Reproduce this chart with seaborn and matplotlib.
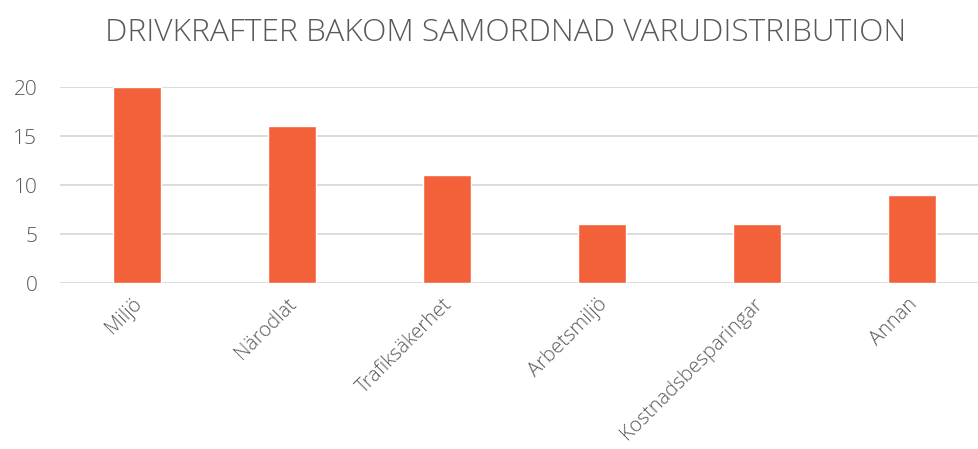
import matplotlib
matplotlib.use("Agg")
import matplotlib.pyplot as plt
import matplotlib.transforms as mtransforms
import seaborn as sns
import pandas as pd

categories = ["Miljö", "Närodlat", "Trafiksäkerhet", "Arbetsmiljö", "Kostnadsbesparingar", "Annan"]
values = [20, 16, 11, 6, 6, 9]
yticks = [0, 5, 10, 15, 20]
title = "DRIVKRAFTER BAKOM SAMORDNAD VARUDISTRIBUTION"

sns.set_theme(style="white")
plt.rcParams['font.family'] = ['Open Sans', 'DejaVu Sans']

df = pd.DataFrame({"cat": categories, "val": values})
fig = plt.figure(figsize=(9.79, 4.49), dpi=100)
ax = fig.add_axes([0.0608, 0.3697, 0.950, 0.4365])
sns.barplot(data=df, x="cat", y="val", color="#F3613A", width=0.31, saturation=1, ax=ax, zorder=3)
ax.set_ylim(0, 20)
ax.set_xlim(-0.5, len(categories) - 0.5)
ax.set_yticks(yticks)
ax.yaxis.grid(True, color="#d9d9d9", linewidth=1.3, zorder=0)
ax.set_axisbelow(True)
for s in ax.spines.values():
    s.set_visible(False)
ax.set_xlabel("")
ax.set_ylabel("")
ax.tick_params(axis="y", length=0, labelsize=15, labelcolor="#595959", pad=16)
ax.tick_params(axis="x", length=0, labelsize=14.5, labelcolor="#595959", pad=8)
offset = mtransforms.ScaledTranslation(-5 / 100, 0, fig.dpi_scale_trans)
for lab in ax.get_xticklabels():
    lab.set_rotation(45)
    lab.set_ha("right")
    lab.set_rotation_mode("anchor")
    lab.set_fontweight("light")
    lab.set_transform(lab.get_transform() + offset)
plt.setp(ax.get_yticklabels(), fontweight="light")
fig.text(0.516, 0.927, title, ha="center", va="center", fontsize=22.8, color="#595959", fontweight="light")
fig.savefig("out.png", dpi=100)
